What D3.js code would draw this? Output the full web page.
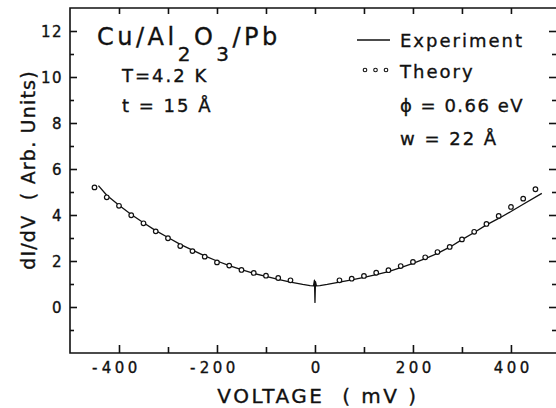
<!DOCTYPE html>
<html>
<head>
<meta charset="utf-8">
<script src="https://cdn.jsdelivr.net/npm/d3@7"></script>
<style>
  html, body { margin: 0; padding: 0; background: #fff; }
  svg { display: block; }
  text { font-family: "DejaVu Sans", "Liberation Sans", sans-serif; fill: #111; stroke: #111; stroke-width: 0.35px; }
</style>
</head>
<body>
<svg id="chart" width="556" height="408"></svg>
<script>
// ---- data ----
const expVoltage = [-442, -425, -400, -375, -350, -325, -300, -275, -250, -225, -200, -175, -150, -125, -100, -75, -50, -25, -10, -3, -1, 0, 1, 3, 10, 25, 50, 75, 100, 125, 150, 175, 200, 225, 250, 275, 300, 325, 350, 375, 400, 425, 463];
const expCond    = [5.28, 4.86, 4.42, 4.02, 3.66, 3.32, 3.02, 2.72, 2.47, 2.22, 2.00, 1.80, 1.62, 1.46, 1.33, 1.20, 1.08, 0.98, 0.93, 0.92, 1.17, 0.20, 1.10, 0.92, 0.93, 0.98, 1.08, 1.18, 1.29, 1.41, 1.54, 1.71, 1.90, 2.10, 2.33, 2.60, 2.93, 3.24, 3.57, 3.85, 4.15, 4.47, 4.94];
const theoryVoltage = [-450, -425, -400, -375, -350, -325, -300, -275, -250, -225, -200, -175, -150, -125, -100, -75, -50, 50, 75, 100, 125, 150, 175, 200, 225, 250, 275, 300, 325, 350, 375, 400, 425, 450];
const theoryCond    = [5.20, 4.77, 4.40, 3.99, 3.64, 3.29, 2.99, 2.65, 2.43, 2.19, 1.94, 1.80, 1.61, 1.48, 1.36, 1.26, 1.16, 1.16, 1.23, 1.35, 1.49, 1.60, 1.78, 1.96, 2.16, 2.39, 2.61, 2.94, 3.27, 3.61, 3.96, 4.35, 4.71, 5.12];
const xMajorTicks = [-400, -200, 0, 200, 400];
const xMinorTicks = [-300, -100, 100, 300];
const yMajorTicks = [0, 2, 4, 6, 8, 10, 12];
const yMinorTicks = [-1, 1, 3, 5, 7, 9, 11];
const xTitle = "VOLTAGE  ( mV )";
const yTitle = "dI/dV  ( Arb. Units)";
const legendLabels = ["Experiment", "Theory"];

// ---- layout ----
const svg = d3.select("#chart");
const L = 70, R = 557, T = 8, B = 353;
const x = d3.scaleLinear().domain([-500, 494]).range([L, R]);
const y = d3.scaleLinear().domain([-2, 13]).range([B, T]);
const AX = 1.6;

// frame
svg.append("path")
  .attr("d", `M${R},${T}H${L}V${B}H${R}`)
  .attr("fill", "none").attr("stroke", "#111").attr("stroke-width", AX);

function styleAxis(g) {
  g.select(".domain").remove();
  g.selectAll(".tick line").attr("stroke", "#111").attr("stroke-width", AX);
}

// bottom axis
const gB = svg.append("g").attr("transform", `translate(0,${B})`);
const gBMajor = gB.append("g").call(d3.axisBottom(x).tickValues(xMajorTicks).tickSize(-8).tickPadding(0)
  .tickFormat(d => Math.abs(d))).call(styleAxis);
gB.append("g").call(d3.axisBottom(x).tickValues(xMinorTicks).tickSize(-6).tickFormat("")).call(styleAxis);
gBMajor.selectAll(".tick text")
  .attr("y", 20).attr("dy", 0)
  .attr("font-size", 15).attr("letter-spacing", 3.5)
  .attr("dx", 1.75)
  .style("font-family", "'DejaVu Sans', sans-serif");
gBMajor.selectAll(".tick").each(function(d) {
  if (d < 0) {
    d3.select(this).append("text")
      .attr("x", -22).attr("y", 20)
      .attr("text-anchor", "end").attr("font-size", 15)
      .text("-");
  }
});

// top axis (ticks only)
const gT = svg.append("g").attr("transform", `translate(0,${T})`);
gT.append("g").call(d3.axisTop(x).tickValues(xMajorTicks.concat(xMinorTicks)).tickSize(-6).tickFormat("")).call(styleAxis);

// left axis
const gL = svg.append("g").attr("transform", `translate(${L},0)`);
gL.append("g").call(d3.axisLeft(y).tickValues(yMajorTicks).tickSize(-7).tickPadding(7)).call(styleAxis);
gL.append("g").call(d3.axisLeft(y).tickValues(yMinorTicks).tickSize(-4).tickFormat("")).call(styleAxis);
gL.selectAll(".tick text").attr("font-size", 15).attr("letter-spacing", 1.5).attr("dy", "0.36em")
  .style("font-family", "'DejaVu Sans', sans-serif");

// right axis (ticks only)
const gR = svg.append("g").attr("transform", `translate(${R},0)`);
gR.append("g").call(d3.axisRight(y).tickValues(yMajorTicks).tickSize(-8).tickFormat("")).call(styleAxis);
gR.append("g").call(d3.axisRight(y).tickValues(yMinorTicks).tickSize(-5).tickFormat("")).call(styleAxis);

// axis titles
svg.append("text").attr("x", 318).attr("y", 403).attr("text-anchor", "middle")
  .attr("font-size", 20).attr("letter-spacing", 2.5)
  .style("white-space", "pre").text(xTitle);
svg.append("text").attr("transform", "translate(35,170) rotate(-90)").attr("text-anchor", "middle")
  .attr("font-size", 19).attr("letter-spacing", 1.2).style("white-space", "pre").text(yTitle);

// experiment line
const line = d3.line().x((d, i) => x(expVoltage[i])).y((d, i) => y(expCond[i]));
svg.append("path").datum(expCond).attr("d", line)
  .attr("fill", "none").attr("stroke", "#111").attr("stroke-width", 1.3).attr("stroke-linejoin", "round");

// theory circles
svg.append("g").selectAll("circle").data(theoryCond).join("circle")
  .attr("cx", (d, i) => x(theoryVoltage[i])).attr("cy", d => y(d)).attr("r", 2.3)
  .attr("fill", "#fff").attr("stroke", "#111").attr("stroke-width", 1.2);

// annotations
const ann = svg.append("g");
const t1 = ann.append("text").attr("x", 97).attr("y", 45).attr("font-size", 24).attr("letter-spacing", 3.5);
t1.append("tspan").text("Cu/Al");
t1.append("tspan").attr("dy", 16).attr("font-size", 20).text("2");
t1.append("tspan").attr("dy", -16).text("O");
t1.append("tspan").attr("dy", 16).attr("font-size", 20).text("3");
t1.append("tspan").attr("dy", -16).text("/Pb");
ann.append("text").attr("x", 122).attr("y", 82).attr("font-size", 18).attr("letter-spacing", 2).text("T=4.2 K");
ann.append("text").attr("x", 122).attr("y", 112).attr("font-size", 18).attr("letter-spacing", 2).style("white-space", "pre").text("t = 15 Å");

// legend
ann.append("line").attr("x1", 357).attr("x2", 390).attr("y1", 40).attr("y2", 40)
  .attr("stroke", "#111").attr("stroke-width", 1.3);
ann.append("text").attr("x", 400).attr("y", 47).attr("font-size", 18).attr("letter-spacing", 2).text(legendLabels[0]);
ann.append("g").selectAll("circle").data([365, 375.5, 386]).join("circle")
  .attr("cx", d => d).attr("cy", 70).attr("r", 1.8)
  .attr("fill", "#fff").attr("stroke", "#111").attr("stroke-width", 1.1);
ann.append("text").attr("x", 400).attr("y", 78).attr("font-size", 18).attr("letter-spacing", 2).text(legendLabels[1]);
ann.append("text").attr("x", 400).attr("y", 112).attr("font-size", 18).attr("letter-spacing", 1.5).text("ϕ = 0.66 eV");
ann.append("text").attr("x", 400).attr("y", 145).attr("font-size", 18).attr("letter-spacing", 2).style("white-space", "pre").text("w = 22 Å");
</script>
</body>
</html>
